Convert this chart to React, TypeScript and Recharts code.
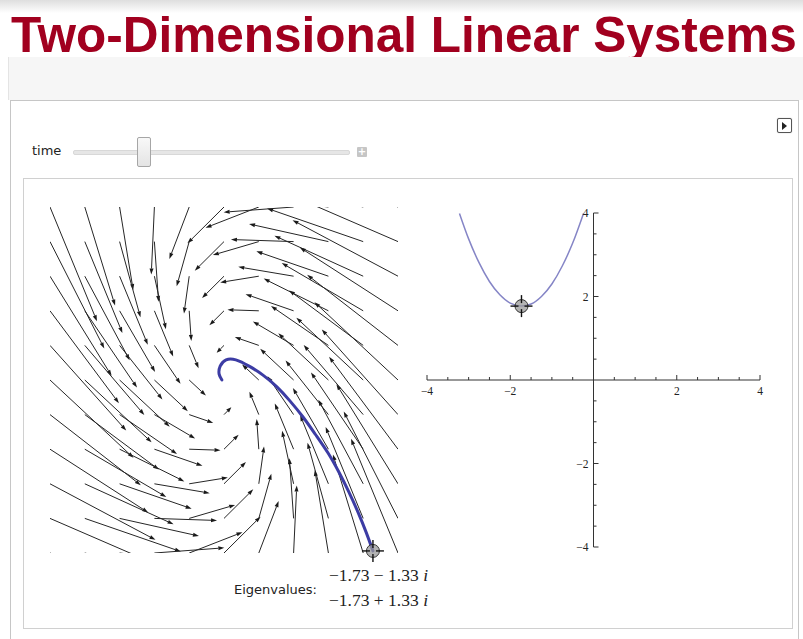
import React from 'react';
import { ComposedChart, XAxis, YAxis, Line, Scatter, ReferenceLine } from 'recharts';

// ---------- text ----------
const TITLE = 'Two-Dimensional Linear Systems';
const SLIDER_LABEL = 'time';
const SLIDER_POSITION = 0.255;
const EIGEN_LABEL = 'Eigenvalues:';
const EIGENVALUES = ['\u22121.73 \u2212 1.33', '\u22121.73 + 1.33'];

// ---------- phase plane (grid units, 11 x 11 sample points) ----------
const GRID_X = [-5, -4, -3, -2, -1, 0, 1, 2, 3, 4, 5];
const GRID_Y = [5, 4, 3, 2, 1, 0, -1, -2, -3, -4, -5];

// horizontal component of the field at each grid point (rows top -> bottom)
const FIELD_U = [
  [22.5, 14.5, 6.5, -1.5, -9.5, -17.5, -25.5, -33.5, -41.5, -49.5, -57.5],
  [26, 18, 10, 2, -6, -14, -22, -30, -38, -46, -54],
  [29.5, 21.5, 13.5, 5.5, -2.5, -10.5, -18.5, -26.5, -34.5, -42.5, -50.5],
  [33, 25, 17, 9, 1, -7, -15, -23, -31, -39, -47],
  [36.5, 28.5, 20.5, 12.5, 4.5, -3.5, -11.5, -19.5, -27.5, -35.5, -43.5],
  [40, 32, 24, 16, 8, 0, -8, -16, -24, -32, -40],
  [43.5, 35.5, 27.5, 19.5, 11.5, 3.5, -4.5, -12.5, -20.5, -28.5, -36.5],
  [47, 39, 31, 23, 15, 7, -1, -9, -17, -25, -33],
  [50.5, 42.5, 34.5, 26.5, 18.5, 10.5, 2.5, -5.5, -13.5, -21.5, -29.5],
  [54, 46, 38, 30, 22, 14, 6, -2, -10, -18, -26],
  [57.5, 49.5, 41.5, 33.5, 25.5, 17.5, 9.5, 1.5, -6.5, -14.5, -22.5],
];
// vertical component of the field at each grid point
const FIELD_V = [
  [-55, -47.5, -40, -32.5, -25, -17.5, -10, -2.5, 5, 12.5, 20],
  [-51.5, -44, -36.5, -29, -21.5, -14, -6.5, 1, 8.5, 16, 23.5],
  [-48, -40.5, -33, -25.5, -18, -10.5, -3, 4.5, 12, 19.5, 27],
  [-44.5, -37, -29.5, -22, -14.5, -7, 0.5, 8, 15.5, 23, 30.5],
  [-41, -33.5, -26, -18.5, -11, -3.5, 4, 11.5, 19, 26.5, 34],
  [-37.5, -30, -22.5, -15, -7.5, 0, 7.5, 15, 22.5, 30, 37.5],
  [-34, -26.5, -19, -11.5, -4, 3.5, 11, 18.5, 26, 33.5, 41],
  [-30.5, -23, -15.5, -8, -0.5, 7, 14.5, 22, 29.5, 37, 44.5],
  [-27, -19.5, -12, -4.5, 3, 10.5, 18, 25.5, 33, 40.5, 48],
  [-23.5, -16, -8.5, -1, 6.5, 14, 21.5, 29, 36.5, 44, 51.5],
  [-20, -12.5, -5, 2.5, 10, 17.5, 25, 32.5, 40, 47.5, 55],
];
const ARROW_SCALE = 0.06;

const TRAJECTORY = [
  { x: 4.28, y: -4.94 },
  { x: 4.08, y: -4.39 },
  { x: 3.85, y: -3.82 },
  { x: 3.59, y: -3.24 },
  { x: 3.3, y: -2.66 },
  { x: 2.99, y: -2.11 },
  { x: 2.64, y: -1.59 },
  { x: 2.27, y: -1.07 },
  { x: 1.9, y: -0.61 },
  { x: 1.52, y: -0.2 },
  { x: 1.12, y: 0.14 },
  { x: 0.72, y: 0.4 },
  { x: 0.34, y: 0.58 },
  { x: 0.06, y: 0.58 },
  { x: -0.11, y: 0.4 },
  { x: -0.14, y: 0.17 },
  { x: -0.06, y: 0.0 },
];
const START_POINT = [{ x: 4.28, y: -4.94 }];

// ---------- characteristic polynomial plot ----------
const CHAR_CURVE = [
  { x: -3.22, y: 3.99 },
  { x: -3.0, y: 3.38 },
  { x: -2.75, y: 2.81 },
  { x: -2.5, y: 2.36 },
  { x: -2.25, y: 2.04 },
  { x: -2.0, y: 1.84 },
  { x: -1.73, y: 1.77 },
  { x: -1.5, y: 1.82 },
  { x: -1.25, y: 2.0 },
  { x: -1.0, y: 2.3 },
  { x: -0.75, y: 2.73 },
  { x: -0.5, y: 3.28 },
  { x: -0.24, y: 3.99 },
];
const CURVE_POINT = [{ x: -1.73, y: 1.77 }];
const AXIS_TICKS = [-4, -3.5, -3, -2.5, -2, -1.5, -1, -0.5, 0.5, 1, 1.5, 2, 2.5, 3, 3.5, 4];
const TICK_LABELS = [-4, -2, 2, 4];

// ---------- derived tables ----------
const arrowSegments: any[] = [];
GRID_Y.forEach((gy, r) => {
  GRID_X.forEach((gx, c) => {
    const u = FIELD_U[r][c];
    const v = FIELD_V[r][c];
    if (u === 0 && v === 0) return;
    arrowSegments.push({ x1: gx, y1: gy, x2: gx + u * ARROW_SCALE, y2: gy + v * ARROW_SCALE });
  });
});
const xTickData = AXIS_TICKS.map((t) => ({ x: t, y: 0, major: TICK_LABELS.includes(t) }));
const yTickData = AXIS_TICKS.map((t) => ({ x: 0, y: t, major: TICK_LABELS.includes(t) }));
const xLabelData = TICK_LABELS.map((t) => ({ x: t, y: 0, label: t < 0 ? '\u2212' + Math.abs(t) : String(t) }));
const yLabelData = TICK_LABELS.map((t) => ({ x: 0, y: t, label: t < 0 ? '\u2212' + Math.abs(t) : String(t) }));

// ---------- shapes ----------
function Arrow(props: any) {
  const { x1, y1, x2, y2, clipPath } = props;
  const dx = x2 - x1;
  const dy = y2 - y1;
  const len = Math.hypot(dx, dy);
  if (!len || !isFinite(len)) return <g />;
  const ux = dx / len;
  const uy = dy / len;
  const hl = Math.min(6, len * 0.5);
  const hw = 2.0;
  const bx = x2 - ux * hl;
  const by = y2 - uy * hl;
  const pts = `${x2},${y2} ${bx - uy * hw},${by + ux * hw} ${bx + uy * hw},${by - ux * hw}`;
  return (
    <g clipPath={clipPath}>
      <line x1={x1} y1={y1} x2={bx} y2={by} stroke="#262626" strokeWidth={1} />
      <polygon points={pts} fill="#1a1a1a" />
    </g>
  );
}

function Locator(props: any) {
  const { cx, cy } = props;
  if (cx == null || cy == null) return <g />;
  return (
    <g>
      <circle cx={cx} cy={cy} r={6.5} fill="#9a9a9a" fillOpacity={0.75} stroke="#333" strokeWidth={1} />
      <line x1={cx - 11} y1={cy} x2={cx - 3} y2={cy} stroke="#111" strokeWidth={1.4} />
      <line x1={cx + 3} y1={cy} x2={cx + 11} y2={cy} stroke="#111" strokeWidth={1.4} />
      <line x1={cx} y1={cy - 11} x2={cx} y2={cy - 3} stroke="#111" strokeWidth={1.4} />
      <line x1={cx} y1={cy + 3} x2={cx} y2={cy + 11} stroke="#111" strokeWidth={1.4} />
    </g>
  );
}

function XTick(props: any) {
  const { cx, cy, payload } = props;
  const l = payload && payload.major ? 5 : 3;
  return <line x1={cx} y1={cy} x2={cx} y2={cy - l} stroke="#333" strokeWidth={1} />;
}
function YTick(props: any) {
  const { cx, cy, payload } = props;
  const l = payload && payload.major ? 5 : 3;
  return <line x1={cx} y1={cy} x2={cx + l} y2={cy} stroke="#333" strokeWidth={1} />;
}
function XLabel(props: any) {
  const { cx, cy, payload } = props;
  return (
    <text x={cx} y={cy + 15} textAnchor="middle" fontFamily="'Liberation Serif', serif" fontSize={11.5} fill="#222">
      {payload.label}
    </text>
  );
}
function YLabel(props: any) {
  const { cx, cy, payload } = props;
  return (
    <text x={cx - 5} y={cy + 4} textAnchor="end" fontFamily="'Liberation Serif', serif" fontSize={11.5} fill="#222">
      {payload.label}
    </text>
  );
}

function PhasePlane() {
  return (
    <ComposedChart width={368} height={366} margin={{ top: 10, right: 10, bottom: 10, left: 10 }}>
      <XAxis type="number" dataKey="x" domain={[-5, 5]} hide />
      <YAxis type="number" dataKey="y" domain={[-5, 5]} hide width={0} />
      {arrowSegments.map((s, i) => (
        <ReferenceLine
          key={i}
          segment={[{ x: s.x1, y: s.y1 }, { x: s.x2, y: s.y2 }]}
          ifOverflow="hidden"
          shape={Arrow}
        />
      ))}
      <Line
        data={TRAJECTORY}
        dataKey="y"
        type="natural"
        stroke="#3c3ca4"
        strokeWidth={3}
        strokeLinecap="round"
        dot={false}
        activeDot={false}
        isAnimationActive={false}
      />
      <Scatter data={START_POINT} dataKey="y" shape={Locator} isAnimationActive={false} />
    </ComposedChart>
  );
}

function CharPlot() {
  return (
    <ComposedChart width={353} height={354} margin={{ top: 10, right: 10, bottom: 10, left: 10 }}>
      <XAxis type="number" dataKey="x" domain={[-4, 4]} hide />
      <YAxis type="number" dataKey="y" domain={[-4, 4]} hide width={0} />
      <ReferenceLine y={0} stroke="#333" strokeWidth={1} ifOverflow="visible" />
      <ReferenceLine x={0} stroke="#333" strokeWidth={1} ifOverflow="visible" />
      <Scatter data={xTickData} dataKey="y" shape={XTick} isAnimationActive={false} />
      <Scatter data={yTickData} dataKey="y" shape={YTick} isAnimationActive={false} />
      <Scatter data={xLabelData} dataKey="y" shape={XLabel} isAnimationActive={false} />
      <Scatter data={yLabelData} dataKey="y" shape={YLabel} isAnimationActive={false} />
      <Line
        data={CHAR_CURVE}
        dataKey="y"
        type="monotone"
        stroke="#8585c6"
        strokeWidth={1.5}
        dot={false}
        activeDot={false}
        isAnimationActive={false}
      />
      <Scatter data={CURVE_POINT} dataKey="y" shape={Locator} isAnimationActive={false} />
    </ComposedChart>
  );
}

const abs = (l: number, t: number, w?: number, h?: number, extra: any = {}) => ({
  position: 'absolute' as const,
  left: l,
  top: t,
  ...(w != null ? { width: w } : {}),
  ...(h != null ? { height: h } : {}),
  ...extra,
});

export default function App() {
  const trackLeft = 73;
  const trackWidth = 277;
  const thumbLeft = trackLeft + SLIDER_POSITION * trackWidth - 7;
  return (
    <div style={{ position: 'absolute', left: 0, top: 0, width: 803, height: 639, overflow: 'hidden', background: '#fff' }}>
      <div style={abs(0, 0, 803, 13, { background: 'linear-gradient(#dedede, #ffffff)' })} />
      <div
        style={abs(11, 10, 800, 50, {
          fontFamily: "'Liberation Sans', Arial, sans-serif",
          fontWeight: 'bold',
          fontSize: 49.5,
          lineHeight: '49px',
          color: '#a1001f',
          whiteSpace: 'nowrap',
        })}
      >
        {TITLE}
      </div>
      <div style={abs(8, 57, 795, 43, { background: '#f6f6f6', borderLeft: '1px solid #e4e4e4', boxSizing: 'border-box' })} />
      <div style={abs(10, 100, 789, 560, { border: '1px solid #c6c6c6', background: '#fff', boxSizing: 'border-box' })} />
      {/* play button */}
      <div style={abs(777, 118, 15, 15, { border: '1.5px solid #555', borderRadius: 2, background: '#fff', boxSizing: 'border-box', boxShadow: '0 0 1px #999' })} />
      <div style={abs(782, 121.5, 0, 0, { borderLeft: '5px solid #222', borderTop: '4px solid transparent', borderBottom: '4px solid transparent' })} />
      {/* slider */}
      <div style={abs(32, 143, 40, 16, { fontFamily: "'DejaVu Sans', sans-serif", fontSize: 13, lineHeight: '16px', color: '#222' })}>
        {SLIDER_LABEL}
      </div>
      <div style={abs(trackLeft, 150, trackWidth, 5, { background: '#e6e6e6', border: '1px solid #d8d8d8', borderRadius: 2, boxSizing: 'border-box' })} />
      <div
        style={abs(thumbLeft, 137, 14, 30, {
          background: 'linear-gradient(#f8f8f8, #e4e4e4)',
          border: '1px solid #a6a6a6',
          borderRadius: 2,
          boxSizing: 'border-box',
        })}
      />
      <div
        style={abs(357, 147, 10, 10, {
          background: '#c6c6c6',
          borderRadius: 1,
          color: '#fff',
          fontFamily: "'DejaVu Sans', sans-serif",
          fontSize: 10,
          lineHeight: '10px',
          textAlign: 'center',
          fontWeight: 'bold',
        })}
      >
        +
      </div>
      {/* content pane */}
      <div style={abs(23, 178, 770, 451, { border: '1px solid #d0d0d0', background: '#fff', boxSizing: 'border-box' })} />
      <div style={abs(40, 197, 368, 366)}>
        <PhasePlane />
      </div>
      <div style={abs(417, 203, 353, 354)}>
        <CharPlot />
      </div>
      <div style={abs(234, 582, 100, 16, { fontFamily: "'DejaVu Sans', sans-serif", fontSize: 13, lineHeight: '16px', color: '#222', whiteSpace: 'nowrap' })}>
        {EIGEN_LABEL}
      </div>
      <div style={abs(329, 563, 120, 50, { fontFamily: "'Liberation Serif', serif", fontSize: 17.5, lineHeight: '25px', color: '#222', whiteSpace: 'nowrap' })}>
        {EIGENVALUES.map((e, i) => (
          <div key={i}>
            {e} <span style={{ fontStyle: 'italic' }}>i</span>
          </div>
        ))}
      </div>
    </div>
  );
}
